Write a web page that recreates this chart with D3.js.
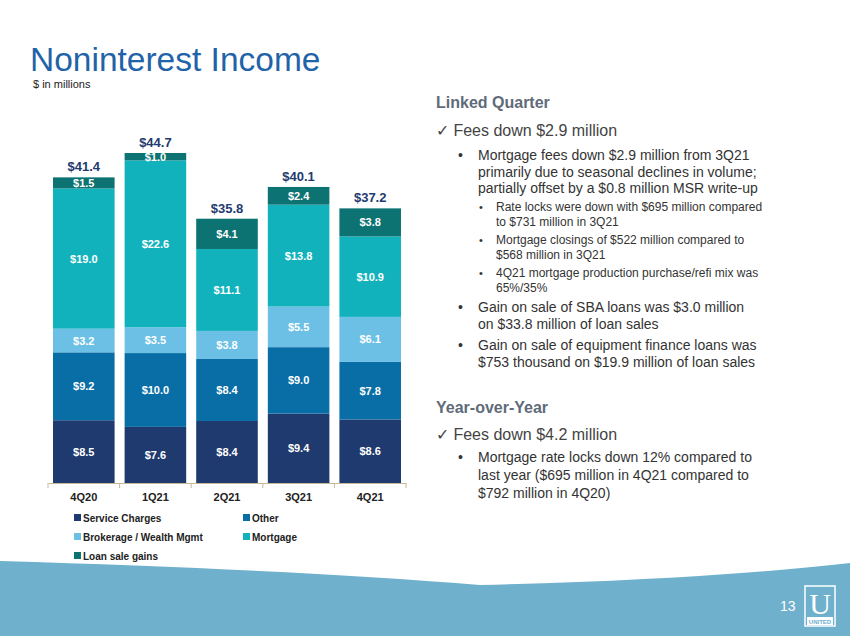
<!DOCTYPE html>
<html><head><meta charset="utf-8">
<script src="https://cdn.jsdelivr.net/npm/d3@7"></script>
<style>body{margin:0;background:#fff}svg{display:block;font-family:Arial,"Liberation Sans",sans-serif}</style>
</head><body><svg id="c" width="850" height="636"></svg>
<script>
const categories=["4Q20","1Q21","2Q21","3Q21","4Q21"];
const seriesNames=["Service Charges","Other","Brokerage / Wealth Mgmt","Mortgage","Loan sale gains"];
const serviceCharges=[8.5,7.6,8.4,9.4,8.6];
const other=[9.2,10.0,8.4,9.0,7.8];
const brokerage=[3.2,3.5,3.8,5.5,6.1];
const mortgage=[19.0,22.6,11.1,13.8,10.9];
const loanSale=[1.5,1.0,4.1,2.4,3.8];
const totals=[41.4,44.7,35.8,40.1,37.2];
const colors=["#1f3a6e","#0a6ea6","#6dc0e5","#12b2bc","#0d7272"];

const svg=d3.select("#c");
svg.append("path").attr("d","M0,561 Q300,570 480,585 Q700,580 850,563 L850,636 L0,636 Z").attr("fill","#6fb0cd");
svg.append("text").attr("x",30).attr("y",71).attr("font-size",33.5).attr("fill","#1f64a8").text("Noninterest Income");
svg.append("text").attr("x",33).attr("y",88).attr("font-size",11).attr("fill","#222").text("$ in millions");

const data=categories.map((c,i)=>({cat:c,"Service Charges":serviceCharges[i],"Other":other[i],"Brokerage / Wealth Mgmt":brokerage[i],"Mortgage":mortgage[i],"Loan sale gains":loanSale[i]}));
const stack=d3.stack().keys(seriesNames)(data);
const x=d3.scaleBand().domain(categories).range([48,406]).paddingInner(0.14).paddingOuter(0.07);
const y=d3.scaleLinear().domain([0,44.7]).range([483,153]);
stack.forEach((s,k)=>{
  const g=svg.append("g");
  g.selectAll("rect").data(s).join("rect").attr("x",d=>x(d.data.cat)).attr("width",x.bandwidth())
   .attr("y",d=>y(d[1])).attr("height",d=>y(d[0])-y(d[1])).attr("fill",colors[k]);
  g.selectAll("text").data(s).join("text").attr("x",d=>x(d.data.cat)+x.bandwidth()/2)
   .attr("y",d=>(y(d[0])+y(d[1]))/2+4).attr("text-anchor","middle").attr("font-size",11).attr("font-weight","bold")
   .attr("fill","#fff").text(d=>"$"+(d[1]-d[0]).toFixed(1));
});
svg.selectAll(".tot").data(categories).join("text").attr("x",d=>x(d)+x.bandwidth()/2).attr("y",(d,i)=>y(totals[i])-6)
  .attr("text-anchor","middle").attr("font-size",13).attr("font-weight","bold").attr("fill","#1f3a6e").text((d,i)=>"$"+totals[i].toFixed(1));
const ax=svg.append("g").attr("transform","translate(0,483)").call(d3.axisBottom(x).tickSize(0).tickPadding(10));
ax.select(".domain").attr("stroke","#c8b89a");
ax.selectAll(".tick text").attr("font-size",11).attr("font-weight","bold").attr("fill","#222").attr("font-family","Arial,'Liberation Sans',sans-serif");
for(let i=0;i<=5;i++){const xx=48+i*(358/5);svg.append("line").attr("x1",xx).attr("x2",xx).attr("y1",483).attr("y2",488).attr("stroke","#c8b89a");}
const leg=[[0,74,522],[1,243,522],[2,74,541],[3,243,541],[4,74,560]];
leg.forEach(([k,lx,ly])=>{
  svg.append("rect").attr("x",lx).attr("y",ly-8).attr("width",7).attr("height",7).attr("fill",colors[k]);
  svg.append("text").attr("x",lx+9).attr("y",ly).attr("font-size",10).attr("font-weight","bold").attr("fill","#222").text(seriesNames[k]);
});
const T=svg.append("g");
function t(x,y,s,size,opts={}){T.append("text").attr("x",x).attr("y",y).attr("font-size",size).attr("font-weight",opts.b?"bold":"normal").attr("fill",opts.c||"#333").text(s);}
t(436,108,"Linked Quarter",16,{b:1,c:"#5f6b7a"});
t(436,136,"✓ Fees down $2.9 million",16,{c:"#444"});
t(458,160,"•",14);t(478,160,"Mortgage fees down $2.9 million from 3Q21",14);t(478,177,"primarily due to seasonal declines in volume;",14);t(478,193,"partially offset by a $0.8 million MSR write-up",14);
const sm=[[211,"Rate locks were down with $695 million compared",1],[226,"to $731 million in 3Q21"],[244,"Mortgage closings of $522 million compared to",1],[259,"$568 million in 3Q21"],[277,"4Q21 mortgage production purchase/refi mix was",1],[292,"65%/35%"]];
sm.forEach(([yy,s,b])=>{if(b)t(479,yy,"•",11);t(496,yy,s,12);});
t(458,312,"•",14);t(478,312,"Gain on sale of SBA loans was $3.0 million",14);t(478,329,"on $33.8 million of loan sales",14);
t(458,350,"•",14);t(478,350,"Gain on sale of equipment finance loans was",14);t(478,367,"$753 thousand on $19.9 million of loan sales",14);
t(436,413,"Year-over-Year",16,{b:1,c:"#5f6b7a"});
t(436,440,"✓ Fees down $4.2 million",16,{c:"#444"});
t(458,462,"•",14);t(478,462,"Mortgage rate locks down 12% compared to",14);t(478,480,"last year ($695 million in 4Q21 compared to",14);t(478,498,"$792 million in 4Q20)",14);
svg.append("text").attr("x",780).attr("y",611).attr("font-size",14).attr("fill","#fff").text("13");
svg.append("rect").attr("x",805).attr("y",586).attr("width",30).attr("height",40).attr("fill","none").attr("stroke","#fff").attr("stroke-width",1.5);
svg.append("text").attr("x",820).attr("y",614).attr("text-anchor","middle").attr("font-size",30).attr("font-family","Times New Roman,Liberation Serif,serif").attr("fill","#fff").text("U");
svg.append("rect").attr("x",807).attr("y",617).attr("width",26).attr("height",8).attr("fill","#fff");
svg.append("text").attr("x",820).attr("y",624).attr("text-anchor","middle").attr("font-size",6).attr("font-weight","bold").attr("fill","#6fb0cd").text("UNITED");
</script></body></html>
